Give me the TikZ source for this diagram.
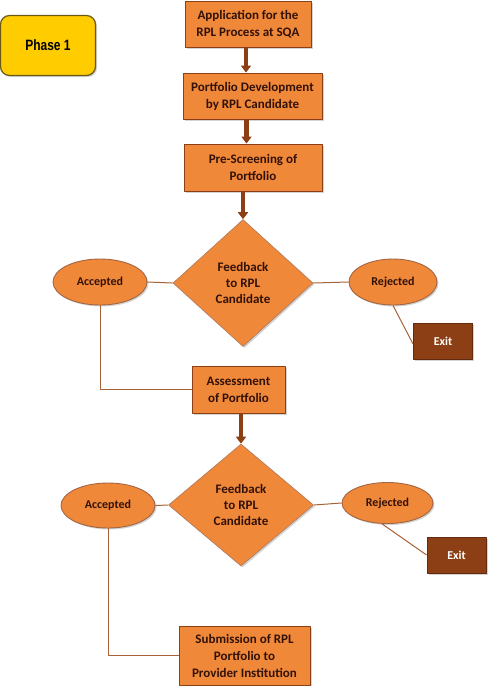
\documentclass[tikz,border=0pt]{standalone}
\usepackage{fontspec}
\setmainfont{Carlito}
\newfontfamily\phasefont[FakeStretch=0.8]{Liberation Sans}
\usetikzlibrary{arrows.meta,shapes.geometric,shadows}
\definecolor{pumpkin}{RGB}{240,136,58}
\definecolor{bark}{RGB}{140,62,20}
\definecolor{rope}{RGB}{168,98,58}
\definecolor{inkbrown}{RGB}{50,18,8}
\definecolor{goldfill}{RGB}{255,204,0}
\definecolor{goldedge}{RGB}{105,90,20}

\begin{document}
\begin{tikzpicture}[x=1pt,y=-1pt,line join=round,
  shade/.style={drop shadow={shadow xshift=1.5pt,shadow yshift=-1.5pt,opacity=0.35}},
  procbox/.style={rectangle,draw=bark,line width=0.9pt,fill=pumpkin,inner sep=0pt,align=center,
    font=\fontsize{13}{17}\selectfont\bfseries,text=inkbrown,shade},
  decision/.style={diamond,draw=bark!70,line width=0.6pt,fill=pumpkin,inner sep=0pt,align=center,
    font=\fontsize{13}{16}\selectfont\bfseries,text=inkbrown,shade},
  outcome/.style={ellipse,draw=bark!80,line width=0.9pt,fill=pumpkin,inner sep=0pt,
    font=\fontsize{12}{14}\selectfont\bfseries,text=inkbrown,shade},
  exitbox/.style={rectangle,draw=bark!70!black,line width=0.9pt,fill=bark,inner sep=0pt,
    minimum width=59pt,minimum height=36pt,font=\fontsize{12}{14}\selectfont\bfseries,text=white,shade},
  phasebox/.style={rectangle,rounded corners=9pt,draw=goldedge,line width=1.2pt,fill=goldfill,
    minimum width=95pt,minimum height=60pt,font=\phasefont\fontsize{15}{17}\selectfont\bfseries,text=black,shade},
  flow/.style={draw=bark,line width=4.5pt,-{Triangle[width=10pt,length=7pt]}},
  link/.style={draw=rope,line width=1pt}]
\useasboundingbox (0,0) rectangle (489,686);

% phase label
\node[phasebox] (phase) at (48,45.5) {Phase 1};

% first part
\node[procbox,minimum width=126pt,minimum height=46pt] (app) at (248,24) {Application for the\\RPL Process at SQA};
\node[procbox,minimum width=139pt,minimum height=46pt] (dev) at (252.5,96) {Portfolio Development\\by RPL Candidate};
\node[procbox,minimum width=138pt,minimum height=47pt] (pre) at (253,167.5) {Pre-Screening of\\Portfolio};
\node[decision,minimum width=140pt,minimum height=127pt] (fb1) at (243,283) {Feedback\\to RPL\\Candidate};
\node[outcome,minimum width=94pt,minimum height=46pt] (acc1) at (100,282) {Accepted};
\node[outcome,minimum width=88pt,minimum height=46pt] (rej1) at (393,282) {Rejected};
\node[exitbox] (exit1) at (443,341) {Exit};
\node[procbox,minimum width=93pt,minimum height=47pt] (assess) at (238.5,389.5) {Assessment\\of Portfolio};

% second part
\node[decision,minimum width=145pt,minimum height=122pt] (fb2) at (241,505) {Feedback\\to RPL\\Candidate};
\node[outcome,minimum width=94pt,minimum height=45pt] (acc2) at (108,505.5) {Accepted};
\node[outcome,minimum width=91pt,minimum height=41pt] (rej2) at (387.5,503) {Rejected};
\node[exitbox] (exit2) at (456.5,555) {Exit};
\node[procbox,minimum width=131pt,minimum height=59pt] (sub) at (244.5,655.5) {Submission of RPL\\Portfolio to\\Provider Institution};

% arrows
\draw[flow] ([xshift=-2pt]app.south) -- ([xshift=-2pt]app.south |- dev.north);
\draw[flow] ([xshift=-6pt]dev.south) -- ([xshift=-6pt]dev.south |- pre.north);
\draw[flow] (fb1.north |- pre.south) -- (fb1.north);
\draw[flow] (fb2.north |- assess.south) -- (fb2.north);

% connectors
\draw[link] (acc1.east) -- (fb1.west);
\draw[link] (fb1.east) -- (rej1.west);
\draw[link] (rej1.south) -- ([yshift=-3pt]exit1.west);
\draw[link] (acc1.south) |- (assess.west);
\draw[link] (acc2.east) -- (fb2.west);
\draw[link] (fb2.east) -- (rej2.west);
\draw[link] (rej2.-105) -- (exit2.west);
\draw[link] (acc2.south) |- (sub.west);
\end{tikzpicture}
\end{document}
